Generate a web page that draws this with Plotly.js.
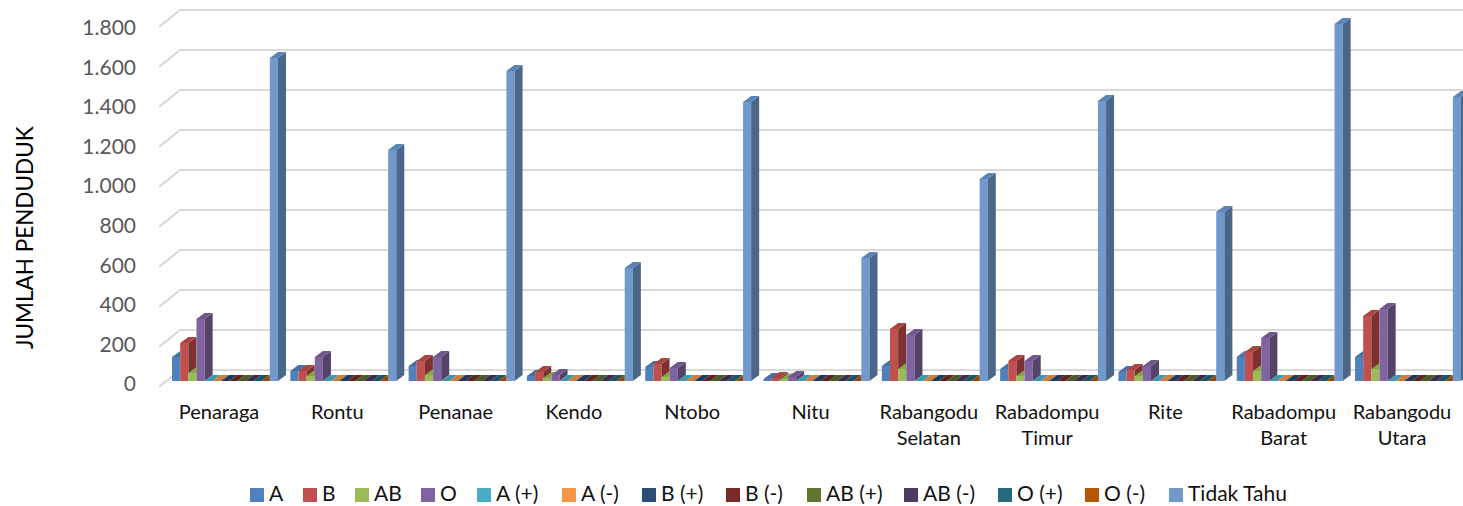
<!DOCTYPE html>
<html><head><meta charset="utf-8">
<script src="https://cdn.plot.ly/plotly-3.0.1.min.js"></script>
<style>html,body{margin:0;padding:0;background:#fff}#c{width:1463px;height:506px}</style>
</head><body><div id="c"></div>
<script>
// ---- data ----
const categories = ['Penaraga','Rontu','Penanae','Kendo','Ntobo','Nitu','Rabangodu<br>Selatan','Rabadompu<br>Timur','Rite','Rabadompu<br>Barat','Rabangodu<br>Utara'];
const seriesNames = ['A','B','AB','O','A (+)','A (-)','B (+)','B (-)','AB (+)','AB (-)','O (+)','O (-)','Tidak Tahu'];
const A   = [120,50,75,25,70,10,75,60,45,120,120];
const B   = [190,50,100,45,85,15,260,100,55,145,325];
const AB  = [40,25,30,15,20,8,60,25,25,50,60];
const O   = [310,120,120,30,65,20,230,100,75,215,360];
const Apos= [0,0,0,0,0,0,0,0,0,0,0];
const Aneg= [0,0,0,0,0,0,0,0,0,0,0];
const Bpos= [0,0,0,0,0,0,0,0,0,0,0];
const Bneg= [0,0,0,0,0,0,0,0,0,0,0];
const ABpos=[0,0,0,0,0,0,0,0,0,0,0];
const ABneg=[0,0,0,0,0,0,0,0,0,0,0];
const Opos= [0,0,0,0,0,0,0,0,0,0,0];
const Oneg= [0,0,0,0,0,0,0,0,0,0,0];
const TidakTahu = [1615,1155,1550,565,1395,615,1010,1400,845,1785,1420];
const seriesValues = [A,B,AB,O,Apos,Aneg,Bpos,Bneg,ABpos,ABneg,Opos,Oneg,TidakTahu];
const yTicks = [0,200,400,600,800,1000,1200,1400,1600,1800];

// ---- styles ----
const frontColors = ['#4f81bd','#c0504d','#9bbb59','#8064a2','#4bacc6','#f79646','#2c4d75','#772c2a','#5f7530','#4d3b62','#276a7c','#b65708','#7299cb'];
const topColors   = ['#4472a8','#a84543','#87a34d','#6f578d','#3f96ad','#cf7d3a','#1f3a5c','#5f2321','#4a5c26','#3b2d4d','#1e5463','#964706','#5b84b6'];
const sideColors  = ['#2f4e73','#7d3230','#64793a','#554269','#2f6f80','#a0612d','#1b3048','#4c1c1b','#3d4b1f','#31263f','#194450','#763905','#4a6688'];
const W = 1463, H = 506, plotBottom = 400, plotLeft = 159;
const pxPerCat = 118.3, catZeroPx = 225;
const pxPerUnit = 0.2, zeroPx = 381;
const barPx = 8.15, depthXPx = 8, depthYPx = 6;
const w = barPx/pxPerCat, dx = depthXPx/pxPerCat, dy = depthYPx/pxPerUnit;
const xAt = px => (px-catZeroPx)/pxPerCat;
const xRange = [xAt(plotLeft), xAt(W)];
const yBarRange = [(zeroPx-plotBottom)/pxPerUnit, zeroPx/pxPerUnit];
const labelZeroPx = 384, labelPxPerUnit = 0.198;
const yLabelRange = [(labelZeroPx-plotBottom)/labelPxPerUnit, labelZeroPx/labelPxPerUnit];
const labelNudgePx = -6;

// keep only the part of a polygon at or above a height (the next bar's front hides the rest)
function clipAbove(poly, h){
  const out=[];
  for(let i=0;i<poly.length;i++){
    const a=poly[i], b=poly[(i+1)%poly.length];
    const ia=a[1]>=h, ib=b[1]>=h;
    if(ia) out.push(a);
    if(ia!==ib){ const t=(h-a[1])/(b[1]-a[1]); out.push([a[0]+t*(b[0]-a[0]),h]); }
  }
  return out;
}
function polyTrace(polys,color,name){
  const x=[],y=[];
  polys.forEach(p=>{ if(p.length<3) return; p.forEach(q=>{x.push(q[0]);y.push(q[1]);}); x.push(p[0][0]);y.push(p[0][1]); x.push(null);y.push(null); });
  return {type:'scatter',mode:'lines',x,y,xaxis:'x',yaxis:'y2',fill:'toself',fillcolor:color,line:{width:0,color},hoverinfo:'skip',showlegend:false,name};
}
const catIdx = categories.map((_,i)=>i);
const n = seriesNames.length;
const traces = seriesNames.map((nm,s)=>({type:'bar',name:nm,x:catIdx,y:seriesValues[s],xaxis:'x',yaxis:'y2',marker:{color:frontColors[s],line:{width:0}},showlegend:false}));
seriesNames.forEach((nm,s)=>{
  const sides=[],tops=[];
  catIdx.forEach(k=>{
    const v=seriesValues[s][k];
    const next=s<n-1?seriesValues[s+1][k]:0;
    const x0=k+(s-n/2)*w, x1=x0+w;
    sides.push(clipAbove([[x1,0],[x1+dx,dy],[x1+dx,v+dy],[x1,v]],next));
    // the part of the top above the bar's own front is never hidden by the next bar
    tops.push([[x0,v],[x1,v],[x1,v+dy],[x0+dx,v+dy]]);
    tops.push(clipAbove([[x1,v],[x1+dx,v+dy],[x1,v+dy]],next));
  });
  traces.push(polyTrace(sides,sideColors[s],nm+' side'));
  traces.push(polyTrace(tops,topColors[s],nm+' top'));
});
// the label axis needs a trace of its own so that it is drawn
traces.push({type:'scatter',mode:'none',x:[0],y:[0],xaxis:'x',yaxis:'y',hoverinfo:'skip',showlegend:false});

// back wall and left wall gridlines
const frontShift = (zeroPx-387)/pxPerUnit, backShift = (zeroPx-370)/pxPerUnit;
const shapes = yTicks.map(v=>({type:'path',layer:'below',xref:'x',yref:'y2',
  path:`M${xAt(159)},${v+frontShift} L${xAt(180)},${v+backShift} L${xAt(W+5)},${v+backShift}`,
  line:{color:'#d9d9d9',width:2.2}}));

// legend drawn as swatches and text
const legendSwatchPx = [250,303,355,421,477,562,642,726,807,904,998,1085,1169];
const legendY = 495, sw = 14;
const annotations = [{xref:'paper',yref:'paper',x:(24-plotLeft)/(W-plotLeft),y:(plotBottom-238)/plotBottom,xanchor:'center',yanchor:'middle',showarrow:false,textangle:-90,text:'JUMLAH PENDUDUK',font:{family:'Lato, sans-serif',size:22.5,color:'#000'}}];
seriesNames.forEach((nm,s)=>{
  const px=legendSwatchPx[s];
  shapes.push({type:'rect',xref:'paper',yref:'paper',x0:(px-plotLeft)/(W-plotLeft),x1:(px+sw-plotLeft)/(W-plotLeft),
    y0:(plotBottom-legendY-sw/2)/plotBottom,y1:(plotBottom-legendY+sw/2)/plotBottom,fillcolor:frontColors[s],line:{width:0}});
  annotations.push({xref:'paper',yref:'paper',x:(px+sw+4-plotLeft)/(W-plotLeft),y:(plotBottom-H+0.5)/plotBottom,xanchor:'left',yanchor:'bottom',showarrow:false,borderpad:0,text:nm,font:{family:'Lato, sans-serif',size:21,color:'#111'}});
});

const layout = {
  width:W,height:H,paper_bgcolor:'#fff',plot_bgcolor:'#fff',showlegend:false,
  margin:{l:plotLeft,r:0,t:0,b:H-plotBottom,pad:0},
  barmode:'group',bargap:1-13*w,bargroupgap:0,separators:',.',
  xaxis:{type:'linear',range:xRange,fixedrange:true,showgrid:false,zeroline:false,showline:false,ticks:'',
    tickmode:'array',tickvals:catIdx.map(k=>k+labelNudgePx/pxPerCat),ticktext:categories,
    tickfont:{family:'Lato, sans-serif',size:20,color:'#111'},ticklabelstandoff:-2},
  yaxis:{type:'linear',range:yLabelRange,fixedrange:true,showgrid:false,zeroline:false,showline:false,ticks:'',
    tickmode:'array',tickvals:yTicks,tickformat:',d',tickfont:{family:'Lato, sans-serif',size:21,color:'#595959'},ticklabelstandoff:22},
  yaxis2:{type:'linear',range:yBarRange,fixedrange:true,overlaying:'y',side:'left',showgrid:false,zeroline:false,showline:false,showticklabels:false,ticks:''},
  shapes,annotations
};
Plotly.newPlot('c',traces,layout,{displayModeBar:false,staticPlot:true});
</script></body></html>
